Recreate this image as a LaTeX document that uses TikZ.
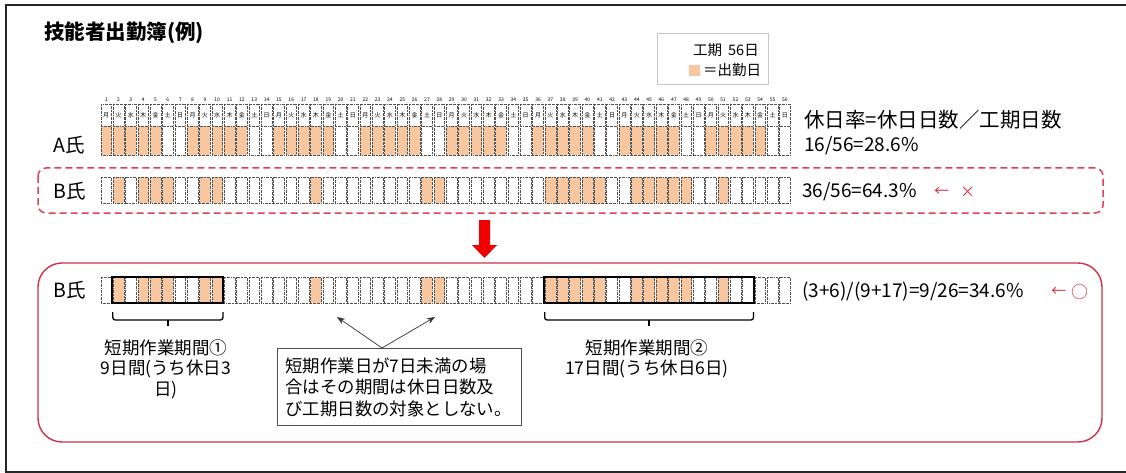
\documentclass[tikz,border=0pt]{standalone}
\usepackage{fontspec}
\setmainfont{Noto Sans CJK JP}
\usetikzlibrary{arrows.meta,calc}
\definecolor{att}{HTML}{F8C7A0}
\definecolor{redline}{HTML}{E0405A}
\definecolor{redbox}{HTML}{D03048}
\definecolor{redtxt}{HTML}{D83040}
\definecolor{cellline}{HTML}{505050}
\tikzset{
  cellbox/.style={draw=cellline, line width=0.55pt, dash pattern=on 2pt off 0.8pt on 0.6pt off 0.8pt},
  numlbl/.style={font=\fontsize{5}{6}\selectfont, inner sep=0pt},
  daylbl/.style={font=\fontsize{6}{7}\selectfont, inner sep=0pt},
  namelbl/.style={font=\fontsize{19.5}{22}\selectfont, inner sep=0pt, anchor=west},
  ratetxt/.style={font=\fontsize{19}{22}\selectfont, inner sep=0pt, anchor=west},
  marktxt/.style={font=\fontsize{15}{17}\selectfont, inner sep=0pt, text=redtxt},
  captxt/.style={font=\fontsize{17.5}{20.5}\selectfont, inner sep=0pt, align=center, anchor=north},
  legtxt/.style={font=\fontsize{14.5}{16}\selectfont, inner sep=0pt},
  bracketline/.style={line width=1.3pt, rounded corners=2.5pt},
  thickbox/.style={draw=black, line width=2pt},
  notebox/.style={draw=cellline, line width=0.8pt, align=left, inner xsep=8pt, inner ysep=0pt,
    text width=228pt, minimum height=77pt, font=\fontsize{17.4}{21.5}\selectfont},
  ptr/.style={draw=black!80, line width=0.7pt, -{Stealth[length=8pt,width=6pt]}},
}
\begin{document}
\begin{tikzpicture}[x=1pt,y=-1pt]
\useasboundingbox (0,0) rectangle (1126,473);
\fill[white] (0,0) rectangle (1126,473);
% outer frame (right edge outside picture)
\draw[line width=2.2pt, black!85] (1140,5) -- (6,5) -- (6,472) -- (1140,472);

% title
\node[anchor=west, inner sep=0pt, font=\fontsize{20.5}{23}\selectfont\bfseries] (title) at (44,33) {技能者出勤簿(例)};

% legend
\node[draw=gray!45, line width=0.8pt, minimum width=111pt, minimum height=51pt, inner sep=0pt] (legend) at (712.5,58.5) {};
\node[legtxt] (leg1) at (726,50) {工期\hspace{6pt}56日};
\fill[att] (689,65) rectangle (700,76);
\node[legtxt, anchor=west] (leg2) at (703,70.5) {＝出勤日};

% ---------- A row ----------
\node[namelbl] (aname) at (53,145) {A氏};
\foreach \k in {1,...,56} {
  \pgfmathsetmacro{\xl}{100+(\k-1)*12.34+0.8}
  \pgfmathsetmacro{\xr}{100+\k*12.34-0.8}
  \pgfmathsetmacro{\xc}{100+(\k-0.5)*12.34}
  \pgfmathtruncatemacro{\dw}{mod(\k-1,7)}
  \ifnum\dw<5 \fill[att] (\xl,126) rectangle (\xr,155); \fi
  \draw[cellbox] (\xl,104) rectangle (\xr,155);
  \draw[cellbox] (\xl,126) -- (\xr,126);
  \node[numlbl] (n\k) at (\xc,99.5) {\k};
  \node[daylbl] (d\k) at (\xc,115) {\ifcase\dw 月\or 火\or 水\or 木\or 金\or 土\or 日\fi};
}
\node[anchor=west, inner sep=0pt, font=\fontsize{20.5}{23}\selectfont] (formula) at (804,120) {休日率=休日日数／工期日数};
\node[ratetxt] (arate) at (804,146) {16/56=28.6\%};

% ---------- B row (before) ----------
\draw[redline, line width=1.5pt, dash pattern=on 7pt off 4pt, rounded corners=8pt] (38,168) rectangle (1103,213);
\node[namelbl] (bname1) at (53,191) {B氏};
\foreach \k in {2,4,5,6,9,10,18,27,28,37,38,39,40,41,44,45,46,47,48,51} {
  \fill[att] (100+\k*12.34-12.34+0.8,177) rectangle (100+\k*12.34-0.8,203);
}
\foreach \k in {1,...,56} {
  \draw[cellbox] (100+\k*12.34-12.34+0.8,177) rectangle (100+\k*12.34-0.8,203);
}
\node[ratetxt] (brate1) at (802,192) {36/56=64.3\%};
\node[marktxt] (arr1) at (941.5,192) {←};
\node[marktxt] (bad) at (967.5,192) {×};

% big red arrow
\fill[red!95!black] (479,220) -- (490,220) -- (490,245) -- (497,245) -- (484.5,258) -- (472,245) -- (479,245) -- cycle;

% ---------- B row (after) ----------
\draw[redbox, line width=1.4pt, rounded corners=24pt] (38,263) rectangle (1102,442);
\node[namelbl] (bname2) at (53,290) {B氏};
\foreach \k in {2,4,5,6,9,10,18,27,28,37,38,39,40,41,44,45,46,47,48,51} {
  \fill[att] (100+\k*12.34-12.34+0.8,277) rectangle (100+\k*12.34-0.8,303);
}
\foreach \k in {1,...,56} {
  \draw[cellbox] (100+\k*12.34-12.34+0.8,277) rectangle (100+\k*12.34-0.8,303);
}
\draw[thickbox] (112.34,277) rectangle (223.4,303);
\draw[thickbox] (544.24,277) rectangle (754.0,303);

% brackets
\draw[bracketline] (112.8,312) -- (112.8,320) -- (223,320) -- (223,312);
\draw[line width=1.3pt] (167.9,320) -- (167.9,326);
\draw[bracketline] (544.7,312) -- (544.7,320) -- (753.5,320) -- (753.5,312);
\draw[line width=1.3pt] (649.1,320) -- (649.1,326);

\node[captxt] (cap1) at (166,339) {短期作業期間①\\9日間(うち休日3\\日)};
\node[captxt] (cap2) at (647,339) {短期作業期間②\\17日間(うち休日6日)};

\node[notebox, anchor=north west] (note) at (277,348) {短期作業日が7日未満の場\\合はその期間は休日日数及\\び工期日数の対象としない。};
\coordinate (tgt1) at (337,317);
\coordinate (tgt2) at (435,317);
\draw[ptr] ($(note.north west)+(105,0)$) -- (tgt1);
\draw[ptr] ($(note.north west)+(105,0)$) -- (tgt2);

\node[ratetxt] (brate2) at (802,292) {(3+6)/(9+17)=9/26=34.6\%};
\node[marktxt] (arr2) at (1058.5,292) {←};
\node[marktxt, font=\fontsize{17}{19}\selectfont] (good) at (1079.5,292) {○};
\end{tikzpicture}
\end{document}
